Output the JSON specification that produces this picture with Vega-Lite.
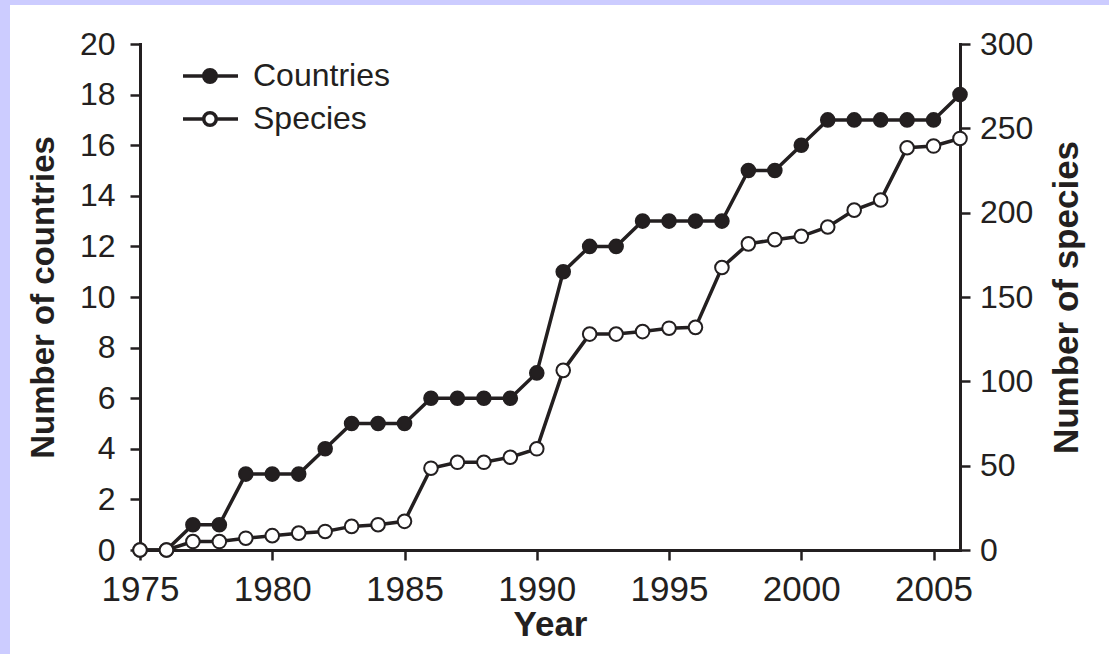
{
  "$schema": "https://vega.github.io/schema/vega-lite/v6.json",
  "background": "white",
  "padding": 0,
  "spacing": 44,
  "bounds": "flush",
  "resolve": {"scale": {"fill": "independent"}, "legend": {"fill": "independent"}},
  "config": {
    "view": {"stroke": null},
    "axis": {
      "domainColor": "#231f20",
      "domainWidth": 3,
      "domainCap": "square",
      "tickColor": "#231f20",
      "tickWidth": 2.5,
      "tickSize": 10,
      "labelFont": "Liberation Sans",
      "labelColor": "#231f20",
      "labelFlush": false,
      "labelOverlap": false,
      "titleFont": "Liberation Sans",
      "titleColor": "#231f20",
      "titleFontWeight": "bold",
      "grid": false
    }
  },
  "vconcat": [
    {
      "spacing": 0,
      "hconcat": [
        {
          "width": 10,
          "height": 44,
          "data": {"values": []},
          "mark": "rect",
          "view": {"fill": "#ccccff", "stroke": null}
        },
        {
          "width": 1099,
          "height": 5,
          "data": {"values": []},
          "mark": "rect",
          "view": {"fill": "#ccccff", "stroke": null}
        }
      ]
    },
    {
      "spacing": 130,
      "bounds": "flush",
      "resolve": {"scale": {"fill": "independent"}, "legend": {"fill": "independent"}},
      "hconcat": [
        {
          "width": 10,
          "height": 610,
          "data": {"values": []},
          "mark": "rect",
          "view": {"fill": "#ccccff", "stroke": null}
        },
        {
          "width": 820,
          "height": 506,
          "data": {
            "values": [
              {"Year": 1975, "Countries": 0, "Species": 0},
              {"Year": 1976, "Countries": 0, "Species": 0},
              {"Year": 1977, "Countries": 1, "Species": 5},
              {"Year": 1978, "Countries": 1, "Species": 5},
              {"Year": 1979, "Countries": 3, "Species": 7},
              {"Year": 1980, "Countries": 3, "Species": 8.5},
              {"Year": 1981, "Countries": 3, "Species": 10},
              {"Year": 1982, "Countries": 4, "Species": 11},
              {"Year": 1983, "Countries": 5, "Species": 14},
              {"Year": 1984, "Countries": 5, "Species": 15},
              {"Year": 1985, "Countries": 5, "Species": 17},
              {"Year": 1986, "Countries": 6, "Species": 48.5},
              {"Year": 1987, "Countries": 6, "Species": 52},
              {"Year": 1988, "Countries": 6, "Species": 52},
              {"Year": 1989, "Countries": 6, "Species": 55},
              {"Year": 1990, "Countries": 7, "Species": 60},
              {"Year": 1991, "Countries": 11, "Species": 106.5},
              {"Year": 1992, "Countries": 12, "Species": 128},
              {"Year": 1993, "Countries": 12, "Species": 128},
              {"Year": 1994, "Countries": 13, "Species": 129.5},
              {"Year": 1995, "Countries": 13, "Species": 131.5},
              {"Year": 1996, "Countries": 13, "Species": 132},
              {"Year": 1997, "Countries": 13, "Species": 167.5},
              {"Year": 1998, "Countries": 15, "Species": 181.5},
              {"Year": 1999, "Countries": 15, "Species": 184},
              {"Year": 2000, "Countries": 16, "Species": 186},
              {"Year": 2001, "Countries": 17, "Species": 191.5},
              {"Year": 2002, "Countries": 17, "Species": 201.5},
              {"Year": 2003, "Countries": 17, "Species": 207.5},
              {"Year": 2004, "Countries": 17, "Species": 238.5},
              {"Year": 2005, "Countries": 17, "Species": 239.5},
              {"Year": 2006, "Countries": 18, "Species": 244}
            ]
          },
          "layer": [
            {
              "encoding": {
                "x": {
                  "field": "Year",
                  "type": "quantitative",
                  "scale": {"domain": [1975, 2006], "nice": false, "zero": false},
                  "axis": {
                    "values": [1975, 1980, 1985, 1990, 1995, 2000, 2005],
                    "format": "d",
                    "title": "Year",
                    "labelFontSize": 35,
                    "labelPadding": 12,
                    "titleFontSize": 35,
                    "titlePadding": 0
                  }
                },
                "y": {
                  "field": "Countries",
                  "type": "quantitative",
                  "scale": {"domain": [0, 20], "nice": false},
                  "axis": {
                    "orient": "left",
                    "values": [0, 2, 4, 6, 8, 10, 12, 14, 16, 18, 20],
                    "title": "Number of countries",
                    "labelFontSize": 32,
                    "labelPadding": 15,
                    "titleFontSize": 33,
                    "titlePadding": 19
                  }
                }
              },
              "layer": [
                {"mark": {"type": "line", "color": "#231f20", "strokeWidth": 3.5}},
                {
                  "mark": {"type": "point", "filled": true, "size": 185, "stroke": "#231f20", "strokeWidth": 2, "opacity": 1},
                  "encoding": {
                    "fill": {
                      "datum": "Countries",
                      "type": "nominal",
                      "scale": {"domain": ["Countries", "Species"], "range": ["#231f20", "white"]},
                      "legend": {
                        "orient": "none",
                        "legendX": 54,
                        "legendY": 16,
                        "title": null,
                        "padding": 0,
                        "symbolType": "M-5.4,0L-1.25,0M1.25,0L5.6,0M1.25,0C1.25,0.69,0.69,1.25,0,1.25C-0.69,1.25,-1.25,0.69,-1.25,0C-1.25,-0.69,-0.69,-1.25,0,-1.25C0.69,-1.25,1.25,-0.69,1.25,0Z",
                        "symbolSize": 100,
                        "symbolStrokeColor": "#231f20",
                        "symbolStrokeWidth": 3.5,
                        "symbolOpacity": 1,
                        "labelFont": "Liberation Sans",
                        "labelFontSize": 32,
                        "labelColor": "#231f20",
                        "labelOffset": 27,
                        "labelLimit": 0,
                        "rowPadding": 11
                      }
                    }
                  }
                }
              ]
            },
            {
              "encoding": {
                "x": {
                  "field": "Year",
                  "type": "quantitative",
                  "scale": {"domain": [1975, 2006], "nice": false, "zero": false},
                  "axis": {
                    "values": [1975, 1980, 1985, 1990, 1995, 2000, 2005],
                    "format": "d",
                    "title": "Year",
                    "labelFontSize": 35,
                    "labelPadding": 12,
                    "titleFontSize": 35,
                    "titlePadding": 0
                  }
                },
                "y": {
                  "field": "Species",
                  "type": "quantitative",
                  "scale": {"domain": [0, 300], "nice": false},
                  "axis": {
                    "orient": "right",
                    "values": [0, 50, 100, 150, 200, 250, 300],
                    "title": "Number of species",
                    "labelFontSize": 32,
                    "labelPadding": 9.5,
                    "titleFontSize": 35,
                    "titleAngle": 270,
                    "titleBaseline": "top",
                    "titlePadding": 17
                  }
                }
              },
              "layer": [
                {"mark": {"type": "line", "color": "#231f20", "strokeWidth": 3.5}},
                {
                  "mark": {"type": "point", "filled": true, "size": 185, "stroke": "#231f20", "strokeWidth": 2, "opacity": 1},
                  "encoding": {
                    "fill": {"datum": "Species", "type": "nominal"}
                  }
                }
              ]
            }
          ],
          "resolve": {"scale": {"y": "independent"}}
        }
      ]
    }
  ]
}
